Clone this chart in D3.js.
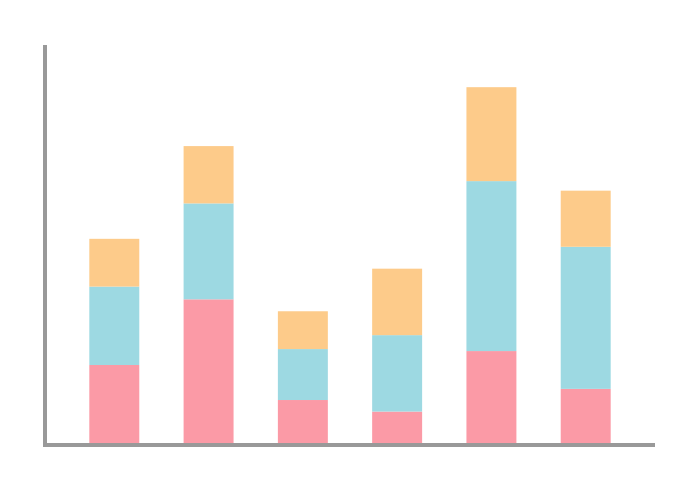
<!DOCTYPE html>
<html>
<head>
<meta charset="utf-8">
<script src="https://cdn.jsdelivr.net/npm/d3@7"></script>
<style>
html,body{margin:0;padding:0;background:#fff;}
svg{display:block;}
</style>
</head>
<body>
<svg id="chart" width="700" height="490"></svg>
<script>
const categories = ["A", "B", "C", "D", "E", "F"];
const seriesNames = ["pink", "blue", "orange"];
const pinkValues = [19.6, 36.1, 10.8, 7.9, 23.1, 13.6];
const blueValues = [19.7, 24.1, 12.8, 19.2, 42.7, 35.7];
const orangeValues = [12.0, 14.4, 9.5, 16.7, 23.6, 14.1];
const colors = ["#fb9aa6", "#9dd9e2", "#fdcb8a"];

const rows = categories.map((c, i) => ({cat: c, pink: pinkValues[i], blue: blueValues[i], orange: orangeValues[i]}));
const stacked = d3.stack().keys(seriesNames)(rows);

const svg = d3.select("#chart");
const x = d3.scaleBand().domain(categories).range([45, 655]).paddingInner(0.47).paddingOuter(0.47);
const y = d3.scaleLinear().domain([0, 100]).range([443, 45]);

svg.append("g").selectAll("g").data(stacked).join("g")
  .attr("fill", (d, i) => colors[i])
  .selectAll("rect").data(d => d).join("rect")
  .attr("x", d => x(d.data.cat))
  .attr("width", x.bandwidth())
  .attr("y", d => y(d[1]))
  .attr("height", d => y(d[0]) - y(d[1]));

// axes
svg.append("line")
  .attr("x1", x.range()[0]).attr("x2", x.range()[0])
  .attr("y1", y.range()[0] + 4).attr("y2", y.range()[1])
  .attr("stroke", "#999").attr("stroke-width", 4);
svg.append("line")
  .attr("x1", x.range()[0] - 2).attr("x2", x.range()[1])
  .attr("y1", y.range()[0] + 2).attr("y2", y.range()[0] + 2)
  .attr("stroke", "#999").attr("stroke-width", 4);
</script>
</body>
</html>
